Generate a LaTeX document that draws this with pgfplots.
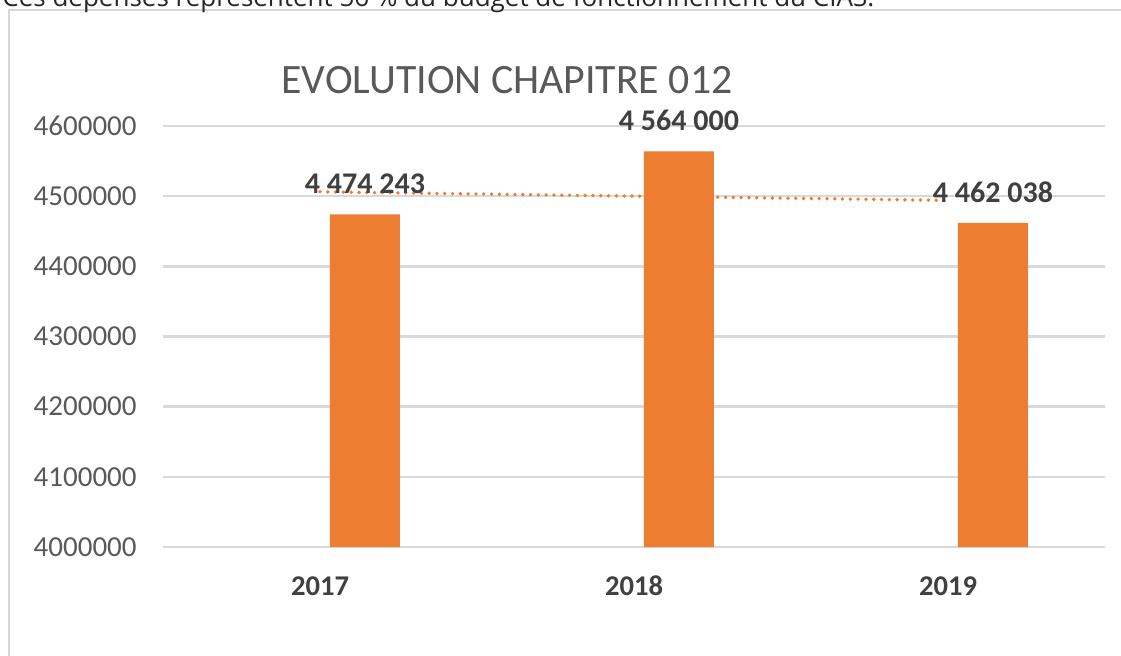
\documentclass[border=0pt]{standalone}
\usepackage{pgfplots}
\pgfplotsset{compat=1.18}
\usepackage{fontspec}
\setmainfont{Carlito}
\newfontfamily\opensans{Open Sans}
\definecolor{barorange}{HTML}{ED7D31}
\definecolor{gridgray}{HTML}{D9D9D9}
\definecolor{framegray}{HTML}{D6D6D6}
\definecolor{ticktext}{HTML}{595959}
\definecolor{labeltext}{HTML}{404040}
\begin{document}
\begin{tikzpicture}
\useasboundingbox (0pt,0pt) rectangle (560.5pt,-327.5pt);
\fill[white] (0pt,0pt) rectangle (560.5pt,-327.5pt);
\draw[framegray, line width=1pt] (4.5pt,-350pt) -- (4.5pt,-5pt) -- (600pt,-5pt);
\node[anchor=base west, inner sep=0pt, font=\opensans\fontsize{13}{15}\selectfont, text=black!85] at (1pt,-3.3pt) {Ces dépenses représentent 56~\% du budget de fonctionnement du CIAS.};
\node[anchor=base, inner sep=0pt, font=\fontsize{20.9}{24}\selectfont, text=ticktext] at (253.5pt,-46.5pt) {EVOLUTION CHAPITRE 012};
\begin{axis}[
  at={(81.5pt,-273.5pt)}, anchor=south west,
  scale only axis, width=471pt, height=210.5pt,
  xmin=-0.5, xmax=2.5, ymin=4000000, ymax=4600000,
  scaled y ticks=false,
  axis line style={draw=none}, major tick length=0pt,
  xtick={0,1,2}, xticklabels={2017,2018,2019},
  ytick={4000000,4100000,4200000,4300000,4400000,4500000,4600000},
  yticklabels={4000000,4100000,4200000,4300000,4400000,4500000,4600000},
  ymajorgrids, grid style={gridgray, line width=1.2pt},
  yticklabel style={font=\fontsize{14.5}{16}\selectfont, text=ticktext, anchor=east, inner sep=0pt, xshift=-13pt},
  xticklabel style={font=\bfseries\fontsize{14.3}{16}\selectfont, text=labeltext, anchor=base, inner sep=0pt, yshift=-24pt},
  clip=false,
]
\addplot[barorange, line width=1.9pt, line cap=round, dash pattern=on 0pt off 3.9pt] coordinates {(0,4506196) (2,4493991)};
\addplot[ybar, bar width=35pt, bar shift=22.5pt, fill=barorange, draw=none,
  point meta=explicit symbolic, nodes near coords,
  nodes near coords style={anchor=south, inner sep=0pt, xshift=22.5pt, yshift=10pt, font=\bfseries\fontsize{15}{17}\selectfont, text=labeltext}]
  coordinates {(0,4474243) [4 474 243] (1,4564000) [4 564 000] (2,4462038) [4 462 038]};
\end{axis}
\end{tikzpicture}
\end{document}
